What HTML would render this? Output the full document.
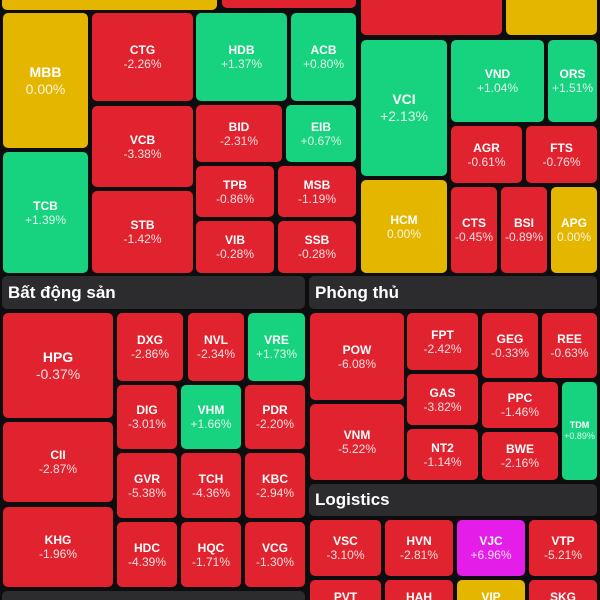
<!DOCTYPE html>
<html><head><meta charset="utf-8">
<style>
html,body{margin:0;padding:0;background:#0d0d0f;}
#wrap{position:relative;width:600px;height:600px;overflow:hidden;background:#0d0d0f;font-family:"Liberation Sans",sans-serif;}
.tile{position:absolute;border-radius:5px;display:flex;flex-direction:column;align-items:center;justify-content:center;color:#fff;text-align:center;overflow:hidden;}
.sym{font-weight:bold;font-size:12px;line-height:14px;}
.pct{font-size:12px;line-height:14px;color:rgba(255,255,255,0.85);}
.big .sym{font-size:14px;line-height:17px;}
.big .pct{font-size:14px;line-height:17px;}
.small .sym,.small .pct{font-size:9px;line-height:11px;}
.hdr{position:absolute;background:#2c2c2e;border-radius:5px;color:#fff;font-size:17px;font-weight:bold;padding-left:6px;box-sizing:border-box;display:flex;align-items:center;}
</style></head>
<body>
<div id="wrap">
<div class="hdr" style="left:2px;top:276px;width:303px;height:33px">Bất động sản</div>
<div class="hdr" style="left:309px;top:276px;width:288px;height:33px">Phòng thủ</div>
<div class="hdr" style="left:309px;top:484px;width:288px;height:32px">Logistics</div>
<div class="hdr" style="left:2px;top:591px;width:303px;height:20px"></div>
</div>
<script>
const symbols=["","","","","MBB","TCB","CTG","VCB","STB","HDB","ACB","BID","EIB","TPB","MSB","VIB","SSB","VCI","HCM","VND","ORS","AGR","FTS","CTS","BSI","APG",
"HPG","CII","KHG","DXG","NVL","VRE","DIG","VHM","PDR","GVR","TCH","KBC","HDC","HQC","VCG",
"POW","VNM","FPT","GAS","NT2","GEG","REE","PPC","BWE","TDM",
"VSC","HVN","VJC","VTP","PVT","HAH","VIP","SKG"];
const changes=[0,-1,-1,0,0.00,1.39,-2.26,-3.38,-1.42,1.37,0.80,-2.31,0.67,-0.86,-1.19,-0.28,-0.28,2.13,0.00,1.04,1.51,-0.61,-0.76,-0.45,-0.89,0.00,
-0.37,-2.87,-1.96,-2.86,-2.34,1.73,-3.01,1.66,-2.20,-5.38,-4.36,-2.94,-4.39,-1.71,-1.30,
-6.08,-5.22,-2.42,-3.82,-1.14,-0.33,-0.63,-1.46,-2.16,0.89,
-3.10,-2.81,6.96,-5.21,-1,-1,0,-1];
// layout rectangles [x0,y0,x1,y1]
const layout=[[2,-6,217,10],[222,-6,356,8],[361,-6,502,35],[506,-6,597,35],
[3,13,88,148],[3,152,88,273],[92,13,193,101],[92,106,193,187],[92,191,193,273],[196,13,287,101],[291,13,356,101],
[196,105,282,162],[286,105,356,162],[196,166,274,217],[278,166,356,217],[196,221,274,273],[278,221,356,273],
[361,40,447,176],[361,180,447,273],[451,40,544,122],[548,40,597,122],[451,126,522,183],[526,126,597,183],
[451,187,497,273],[501,187,547,273],[551,187,597,273],
[3,313,113,418],[3,422,113,502],[3,507,113,587],[117,313,183,381],[188,313,244,381],[248,313,305,381],
[117,385,177,449],[181,385,241,449],[245,385,305,449],[117,453,177,518],[181,453,241,518],[245,453,305,518],
[117,522,177,587],[181,522,241,587],[245,522,305,587],
[310,313,404,400],[310,404,404,480],[407,313,478,370],[407,374,478,425],[407,429,478,480],
[482,313,538,378],[542,313,597,378],[482,382,558,428],[482,432,558,480],[562,382,597,480],
[310,520,381,576],[385,520,453,576],[457,520,525,576],[529,520,597,576],
[310,580,381,620],[385,580,453,620],[457,580,525,620],[529,580,597,620]];
const bigSet=["MBB","VCI","HPG"];
function colorFor(v){if(v>=6.9)return"#e41ee8";if(v>0)return"#17d27e";if(v<0)return"#e0232f";return"#e4b600";}
function fmt(v){return (v>0?"+":"")+v.toFixed(2)+"%";}
const wrap=document.getElementById("wrap");
symbols.forEach((s,i)=>{
  const r=layout[i];const v=changes[i];
  const d=document.createElement("div");
  d.className="tile"+(bigSet.includes(s)?" big":"")+(s==="TDM"?" small":"");
  
  
  d.style.left=r[0]+"px";d.style.top=r[1]+"px";
  d.style.width=(r[2]-r[0])+"px";d.style.height=(r[3]-r[1])+"px";
  d.style.background=colorFor(v);
  if(s){
    const a=document.createElement("div");a.className="sym";a.textContent=s;
    
    
    d.appendChild(a);
    if(r[3]<=600){
      const b=document.createElement("div");b.className="pct";b.textContent=fmt(v);
      
      
      d.appendChild(b);
    } else {d.style.justifyContent="flex-start";a.style.marginTop="10px";}
  }
  wrap.appendChild(d);
});
</script>
</body></html>
